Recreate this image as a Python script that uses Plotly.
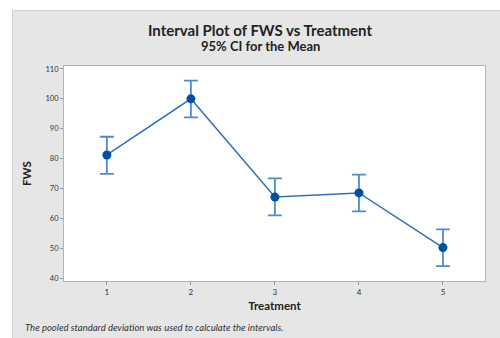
import plotly.graph_objects as go

treatment = [1, 2, 3, 4, 5]
fws_mean = [81.2, 100.0, 67.1, 68.5, 50.2]
ci_upper = [87.3, 106.1, 73.4, 74.6, 56.3]
ci_lower = [74.9, 93.8, 61.0, 62.3, 44.0]
y_ticks = [40, 50, 60, 70, 80, 90, 100, 110]

err_plus = [u - m for u, m in zip(ci_upper, fws_mean)]
err_minus = [m - l for m, l in zip(fws_mean, ci_lower)]

fig = go.Figure()
fig.add_trace(go.Scatter(
    x=treatment, y=fws_mean, mode="lines+markers",
    line=dict(color="#2f6fba", width=1.5),
    marker=dict(color="#0050a0", size=9),
    error_y=dict(type="data", symmetric=False, array=err_plus, arrayminus=err_minus,
                 color="#4f8bcc", thickness=1.8, width=7),
    showlegend=False,
))

font = "Lato"
L, T, PW, PH = 64, 66, 421, 215
fig.update_layout(
    width=500, height=338,
    paper_bgcolor="#e6e6e6",
    plot_bgcolor="white",
    margin=dict(l=L, r=500 - L - PW, t=T, b=338 - T - PH),
    font=dict(family=font, color="#222222"),
    shapes=[
        dict(type="rect", xref="paper", yref="paper", layer="below",
             x0=-L / PW - 0.01, x1=(500 - L) / PW + 0.01, y0=(PH + T - 10) / PH, y1=(PH + T) / PH + 0.01,
             fillcolor="white", line=dict(width=0)),
        dict(type="rect", xref="paper", yref="paper", layer="below",
             x0=-L / PW - 0.01, x1=(12 - L) / PW, y0=-(338 - T - PH) / PH - 0.01, y1=(PH + T) / PH + 0.01,
             fillcolor="white", line=dict(width=0)),
        dict(type="line", xref="paper", yref="paper", layer="below",
             x0=(12 - L) / PW, x1=(500 - L) / PW + 0.01, y0=(PH + T - 10.5) / PH, y1=(PH + T - 10.5) / PH,
             line=dict(color="#d2d2d2", width=1)),
        dict(type="line", xref="paper", yref="paper", layer="below",
             x0=(12.5 - L) / PW, x1=(12.5 - L) / PW, y0=-(338 - T - PH) / PH - 0.01, y1=(PH + T - 10.5) / PH,
             line=dict(color="#d2d2d2", width=1)),
    ],
    annotations=[
        dict(text="<b>Interval Plot of FWS vs Treatment</b>", xref="paper", yref="paper",
             x=(260 - L) / PW, y=1, yshift=36, xanchor="center", yanchor="middle", showarrow=False,
             font=dict(size=15, family=font, color="#222222")),
        dict(text="<b>95% CI for the Mean</b>", xref="paper", yref="paper",
             x=(260 - L) / PW, y=1, yshift=20, xanchor="center", yanchor="middle", showarrow=False,
             font=dict(size=13, family=font, color="#222222")),
        dict(text="<i>The pooled standard deviation was used to calculate the intervals.</i>",
             xref="paper", yref="paper", x=(23 - L) / PW, y=0, yshift=-46, xanchor="left", yanchor="middle",
             showarrow=False, font=dict(size=9.5, family=font, color="#333333")),
    ],
)
fig.update_xaxes(
    range=[0.49, 5.5], tickvals=treatment, ticks="outside", ticklen=3, tickcolor="#999999",
    tickfont=dict(size=8, color="#333333"), showgrid=False, zeroline=False,
    showline=True, linecolor="#b4b4b4", linewidth=1, mirror=True,
    title=dict(text="<b>Treatment</b>", font=dict(size=11.5, color="#222222"), standoff=6),
)
fig.update_yaxes(
    range=[39, 111], tickvals=y_ticks, ticks="outside", ticklen=3, tickcolor="#999999",
    tickfont=dict(size=7.5, color="#333333"), showgrid=False, zeroline=False,
    showline=True, linecolor="#b4b4b4", linewidth=1, mirror=True,
    title=dict(text="<b>FWS</b>", font=dict(size=11.5, color="#222222"), standoff=11),
)

fig.write_html("out.html")
